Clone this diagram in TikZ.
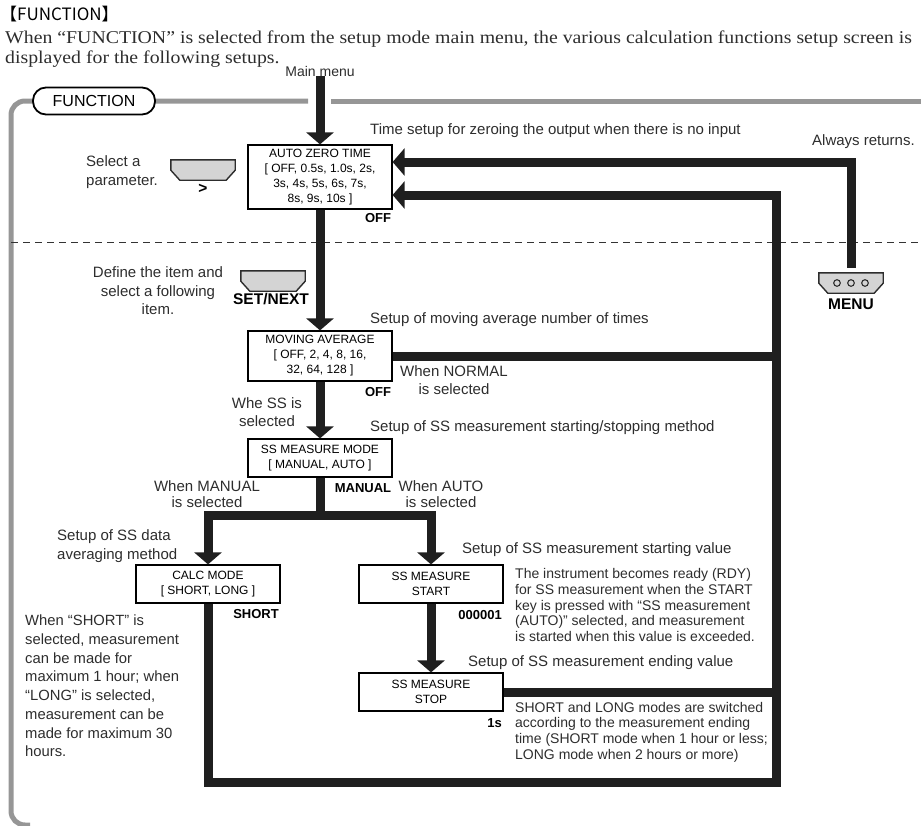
\documentclass[tikz,border=0pt]{standalone}
\usepackage{fontspec}
\setmainfont{Liberation Serif}
\setsansfont{Liberation Sans}
\newfontfamily\cjk{Noto Sans CJK JP}
\newfontfamily\introfont[FakeStretch=1.1]{Liberation Serif}
\usepackage{xcolor}
\usepackage{tikz}
\usetikzlibrary{arrows.meta,calc}
\definecolor{framegray}{RGB}{150,150,150}
\definecolor{keygray}{RGB}{212,212,212}
\definecolor{inkgray}{RGB}{45,45,45}

\begin{document}
\begin{tikzpicture}[x=1pt,y=-1pt,
	every node/.style={inner sep=0pt, text=inkgray},
	lbl/.style={font=\sffamily\fontsize{15}{18.5}\selectfont},
	para/.style={font=\sffamily\fontsize{14}{15.6}\selectfont, align=left, anchor=west},
	val/.style={font=\sffamily\bfseries\fontsize{13}{13}\selectfont, text=black},
	keylbl/.style={font=\sffamily\bfseries\fontsize{15.5}{15.5}\selectfont, text=black},
	box/.style={draw=black, line width=1.2pt, fill=white, minimum width=144pt, align=center, font=\sffamily\fontsize{12}{15}\selectfont, text=black},
	keybox/.style={minimum width=64pt, minimum height=20pt},
	flow/.style={line width=9pt, draw=black!88},
	flowarrow/.style={flow, -{Triangle[width=27pt,length=12pt]}},
	frame/.style={line width=5pt, draw=framegray},
	keyshape/.style={draw=inkgray, line width=1.4pt, fill=keygray}]
	\useasboundingbox (0,0) rectangle (921,825);

	\node[anchor=west, font=\cjk\fontsize{17}{17}\selectfont, text=black] (title) at (0,14) {【FUNCTION】};
	\node[anchor=north west, align=left, font=\introfont\fontsize{18}{20}\selectfont] (intro) at (5,31) {When “FUNCTION” is selected from the setup mode main menu, the various calculation functions setup screen is\\displayed for the following setups.};
	\node[lbl, font=\sffamily\fontsize{14}{14}\selectfont] (mainmenu) at (320,71) {Main menu};

	\draw[frame, rounded corners=14pt] (308,101) -- (11,101) -- (11,825) -- (30,825);
	\draw[frame] (331,101) -- (925,101);
	\node[draw=black, line width=1.8pt, fill=white, rounded corners=13pt, minimum width=122pt, minimum height=27pt, font=\sffamily\fontsize{16}{16}\selectfont, text=black] (tab) at (94,101) {FUNCTION};
	\draw[black!80, line width=0.9pt, dash pattern=on 7pt off 5pt] (11,242) -- (921,242);

	\node[box, minimum height=64pt] (azt) at (320,177) {AUTO ZERO TIME\\{[} OFF, 0.5s, 1.0s, 2s,\\3s, 4s, 5s, 6s, 7s,\\8s, 9s, 10s ]};
	\node[box, minimum height=50pt] (mavg) at (320,356) {MOVING AVERAGE\\{[} OFF, 2, 4, 8, 16,\\32, 64, 128 ]};
	\node[box, minimum height=38pt] (ssmm) at (320,458) {SS MEASURE MODE\\{[} MANUAL, AUTO ]};
	\node[box, minimum height=38pt] (calc) at (208,584) {CALC MODE\\{[} SHORT, LONG ]};
	\node[box, minimum height=38pt] (sstart) at (431,584) {SS MEASURE\\START};
	\node[box, minimum height=38pt] (sstop) at (431,692) {SS MEASURE\\STOP};

	\node[keybox] (selkey) at (203,170) {};
	\node[keybox] (setkey) at (273,281) {};
	\node[keybox] (menukey) at (851,283) {};
	\foreach \k in {selkey,setkey,menukey}
		\draw[keyshape] (\k.north west) -- (\k.north east) -- ([yshift=10pt]\k.south east) -- ([xshift=-9pt]\k.south east) -- ([xshift=9pt]\k.south west) -- ([yshift=10pt]\k.south west) -- cycle;
	\foreach \dx in {-14,0,14}
		\draw[inkgray, line width=1.1pt] ([xshift=\dx pt]menukey.center) circle (3.3pt);
	\node[keylbl] (selgt) at (203,189) {>};
	\node[keylbl] (setlbl) at (271,299) {SET/NEXT};
	\node[keylbl] (menulbl) at (851,304) {MENU};

	\coordinate (split) at (320,515);
	\coordinate (bus) at (776,782);
	\draw[flowarrow] (mainmenu.south) -- (azt.north);
	\draw[flowarrow] (azt.south) -- (mavg.north);
	\draw[flowarrow] (mavg.south) -- (ssmm.north);
	\draw[flow] (ssmm.south) -- (split);
	\draw[flowarrow] (split) -| (calc.north);
	\draw[flowarrow] (split) -| (sstart.north);
	\draw[flowarrow] (sstart.south) -- (sstop.north);
	\draw[flowarrow] (calc.south) |- (bus) |- ([yshift=-18pt]azt.east);
	\draw[flow] (mavg.east) -- (mavg.east -| bus);
	\draw[flow] (sstop.east) -- (sstop.east -| bus);
	\draw[flowarrow] ([yshift=5pt]menukey.north) |- ([yshift=15pt]azt.east);

	\node[lbl, anchor=west] (aztnote) at (370,131) {Time setup for zeroing the output when there is no input};
	\node[lbl, anchor=west] (always) at (812,142) {Always returns.};
	\node[lbl, anchor=west, align=left] (selnote) at (86,172) {Select a\\parameter.};
	\node[lbl, align=center] (setnote) at (158,291) {Define the item and\\select a following\\item.};
	\node[val] (aztoff) at (378,218) {OFF};
	\node[lbl, anchor=west] (mavgnote) at (370,320) {Setup of moving average number of times};
	\node[lbl, align=center] (normal) at (454,380) {When NORMAL\\is selected};
	\node[val] (mavgoff) at (378,392) {OFF};
	\node[lbl, align=center] (whess) at (267,412) {Whe SS is\\selected};
	\node[lbl, anchor=west] (ssmmnote) at (370,428) {Setup of SS measurement starting/stopping method};
	\node[lbl, align=center, font=\sffamily\fontsize{15}{16.5}\selectfont] (manual) at (207,494) {When MANUAL\\is selected};
	\node[val] (manualval) at (363,488) {MANUAL};
	\node[lbl, align=center, font=\sffamily\fontsize{15}{16.5}\selectfont] (auto) at (441,494) {When AUTO\\is selected};
	\node[lbl, anchor=west, align=left] (calcnote) at (57,546) {Setup of SS data\\averaging method};
	\node[val] (shortval) at (256,614) {SHORT};
	\node[para, font=\sffamily\fontsize{14.8}{18.7}\selectfont] (calcpara) at (25,686) {When “SHORT” is\\selected, measurement\\can be made for\\maximum 1 hour; when\\“LONG” is selected,\\measurement can be\\made for maximum 30\\hours.};
	\node[lbl, anchor=west] (startnote) at (462,550) {Setup of SS measurement starting value};
	\node[val, anchor=east] (startval) at (502,615) {000001};
	\node[para] (startpara) at (515,605) {The instrument becomes ready (RDY)\\for SS measurement when the START\\key is pressed with “SS measurement\\(AUTO)” selected, and measurement\\is started when this value is exceeded.};
	\node[lbl, anchor=west] (stopnote) at (468,663) {Setup of SS measurement ending value};
	\node[val, anchor=east] (stopval) at (502,723) {1s};
	\node[para] (stoppara) at (515,732) {SHORT and LONG modes are switched\\according to the measurement ending\\time (SHORT mode when 1 hour or less;\\LONG mode when 2 hours or more)};
\end{tikzpicture}
\end{document}
